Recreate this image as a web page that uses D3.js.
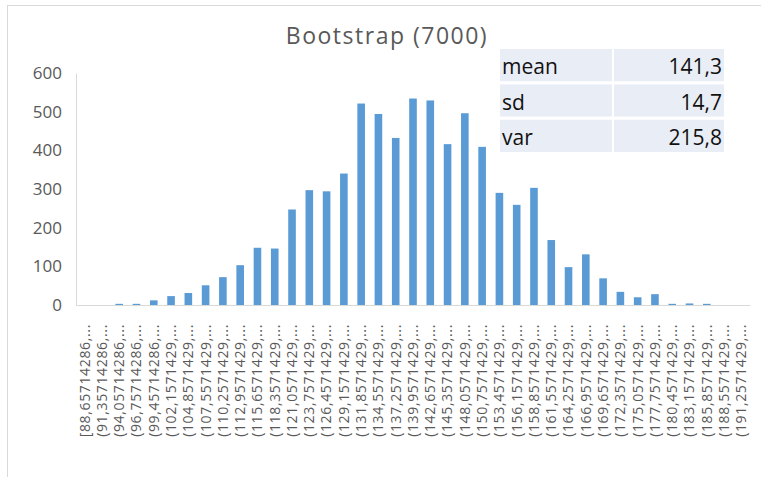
<!DOCTYPE html>
<head>
<meta charset="utf-8">
<style>
    body { margin: 0; background: #fff; }
    text { font-family: "Open Sans", sans-serif; }
</style>
</head>
<body>
    <script src="https://d3js.org/d3.v7.min.js"></script>
    <script>

    ///////////////////////////
    ////////// DATA //////////
    ///////////////////////////

    const binLabels = [
        '[88,65714286,...', '(91,35714286,...', '(94,05714286,...', '(96,75714286,...',
        '(99,45714286,...', '(102,1571429,...', '(104,8571429,...', '(107,5571429,...',
        '(110,2571429,...', '(112,9571429,...', '(115,6571429,...', '(118,3571429,...',
        '(121,0571429,...', '(123,7571429,...', '(126,4571429,...', '(129,1571429,...',
        '(131,8571429,...', '(134,5571429,...', '(137,2571429,...', '(139,9571429,...',
        '(142,6571429,...', '(145,3571429,...', '(148,0571429,...', '(150,7571429,...',
        '(153,4571429,...', '(156,1571429,...', '(158,8571429,...', '(161,5571429,...',
        '(164,2571429,...', '(166,9571429,...', '(169,6571429,...', '(172,3571429,...',
        '(175,0571429,...', '(177,7571429,...', '(180,4571429,...', '(183,1571429,...',
        '(185,8571429,...', '(188,5571429,...', '(191,2571429,...'
    ];
    const counts = [
        0, 0, 3, 3, 12, 23, 31, 51, 72, 103, 148, 146, 247,
        297, 294, 340, 521, 494, 432, 534, 529, 416, 496, 409, 290, 259,
        303, 168, 98, 131, 69, 34, 20, 28, 3, 4, 3, 0, 0
    ];
    const yTicks = [0, 100, 200, 300, 400, 500, 600];
    const statNames = ['mean', 'sd', 'var'];
    const statValues = ['141,3', '14,7', '215,8'];

    ///////////////////////////
    ////////// SETUP //////////
    ///////////////////////////

    const W = 761, H = 477;
    const plot = { left: 76, right: 750, top: 73, bottom: 305 };

    let svg = d3.select('body').append('svg')
        .attr('width', W)
        .attr('height', H);

    // chart frame
    svg.append('rect')
        .attr('x', 7.5).attr('y', 5.5)
        .attr('width', 780).attr('height', 500)
        .attr('fill', 'none')
        .attr('stroke', '#d9d9d9');

    let x = d3.scaleBand()
        .domain(binLabels)
        .range([plot.left, plot.right])
        .paddingInner(0.56)
        .paddingOuter(0.28);

    let y = d3.scaleLinear()
        .domain([0, 600])
        .range([plot.bottom, plot.top]);

    //////////////////////////
    ////////// DRAW //////////
    //////////////////////////

    svg.append('text')
        .attr('x', 387).attr('y', 44)
        .attr('text-anchor', 'middle')
        .attr('font-size', 23)
        .attr('letter-spacing', 1.5)
        .attr('fill', '#595959')
        .text('Bootstrap (7000)');

    // y axis
    let yAxis = svg.append('g')
        .attr('transform', 'translate(' + plot.left + ',0)')
        .call(d3.axisLeft(y).tickValues(yTicks).tickSize(0).tickPadding(14));
    yAxis.select('.domain').attr('stroke', '#d9d9d9');
    yAxis.selectAll('text')
        .attr('font-size', 17)
        .attr('fill', '#595959')
        .attr('font-family', '"Open Sans", sans-serif');

    // bars
    svg.append('g').selectAll('rect')
        .data(counts)
        .join('rect')
        .attr('x', (d, i) => x(binLabels[i]))
        .attr('width', x.bandwidth())
        .attr('y', d => y(d))
        .attr('height', d => y(0) - y(d))
        .attr('fill', '#5b9bd5');

    // x axis
    let xAxis = svg.append('g')
        .attr('transform', 'translate(0,' + plot.bottom + ')')
        .call(d3.axisBottom(x).tickSize(0).tickPadding(0));
    xAxis.select('.domain').attr('stroke', '#d9d9d9');
    xAxis.selectAll('text')
        .attr('font-size', 14)
        .attr('letter-spacing', 0.65)
        .attr('fill', '#595959')
        .attr('font-family', '"Open Sans", sans-serif')
        .attr('text-anchor', 'end')
        .attr('dy', '0.35em')
        .attr('transform', 'translate(0,19) rotate(-90)')
        .attr('x', 0).attr('y', 0);

    // stats table (cells sitting over the chart)
    let rowY = d3.scaleBand()
        .domain(statNames)
        .range([49, 152])
        .paddingInner(0.09);

    let table = svg.append('g');
    let rows = table.selectAll('g')
        .data(statNames)
        .join('g')
        .attr('transform', d => 'translate(0,' + rowY(d) + ')');
    rows.append('rect')
        .attr('x', 500).attr('width', 112)
        .attr('height', rowY.bandwidth())
        .attr('fill', '#e9edf5');
    rows.append('rect')
        .attr('x', 614).attr('width', 110)
        .attr('height', rowY.bandwidth())
        .attr('fill', '#e9edf5');
    rows.append('text')
        .attr('x', 502).attr('y', rowY.bandwidth() - 7)
        .attr('font-size', 21)
        .attr('fill', '#111')
        .text(d => d);
    rows.append('text')
        .attr('x', 722).attr('y', rowY.bandwidth() - 7)
        .attr('text-anchor', 'end')
        .attr('font-size', 21)
        .attr('fill', '#111')
        .text((d, i) => statValues[i]);

    </script>
</body>
